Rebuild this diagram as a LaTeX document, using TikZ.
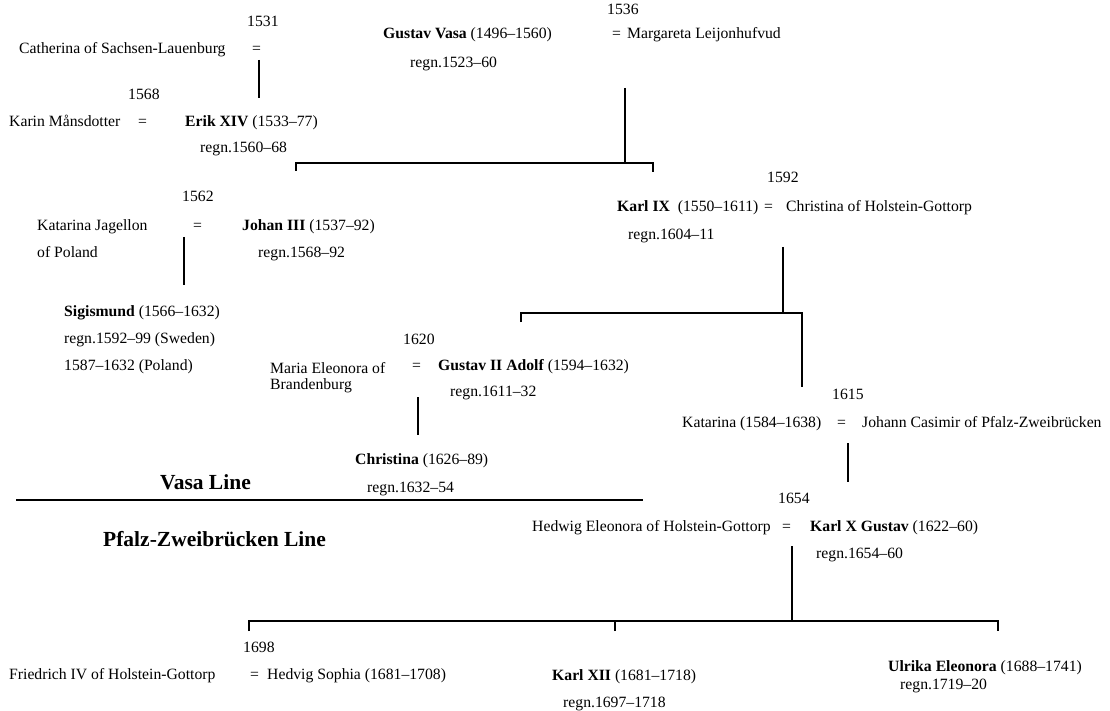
\documentclass[tikz,border=0pt]{standalone}
\usepackage{fontspec}
\setmainfont{Liberation Serif}

\tikzset{
  person/.style={anchor=base west, inner sep=0pt},
  heading/.style={anchor=base west, inner sep=0pt, font=\fontsize{21.5pt}{25pt}\selectfont\bfseries},
  tree/.style={line width=1.2pt}
}

\begin{document}
\begin{tikzpicture}[x=1pt, y=-1pt, font=\fontsize{15.7pt}{19pt}\selectfont]
        \useasboundingbox (0,0) rectangle (1110,711);

        % Gustav Vasa and his marriages
        \node[person] (y1531) at (247,27) {1531};
        \node[person] (catherina) at (19,54) {Catherina of Sachsen-Lauenburg};
        \node[person] (eqCath) at (252,54) {=};
        \node[person] (y1536) at (607,15) {1536};
        \node[person] (gustav) at (383,39) {\textbf{Gustav Vasa} (1496–1560)};
        \node[person] (eqMarg) at (612,39) {=};
        \node[person] (margareta) at (627,39) {Margareta Leijonhufvud};
        \node[person] (gustavReg) at (410,68) {regn.1523–60};

        % Erik XIV
        \node[person] (y1568) at (128,100) {1568};
        \node[person] (karin) at (9,127) {Karin Månsdotter};
        \node[person] (eqKarin) at (138,127) {=};
        \node[person] (erik) at (185,127) {\textbf{Erik XIV} (1533–77)};
        \node[person] (erikReg) at (200,153) {regn.1560–68};

        % Johan III
        \node[person] (y1562) at (182,202) {1562};
        \node[person] (katJag) at (37,231) {Katarina Jagellon};
        \node[person] (katJag2) at (37,258) {of Poland};
        \node[person] (eqKatJag) at (193,231) {=};
        \node[person] (johan) at (242,231) {\textbf{Johan III} (1537–92)};
        \node[person] (johanReg) at (258,258) {regn.1568–92};

        \node[person] (sigismund) at (64,316) {\textbf{Sigismund} (1566–1632)};
        \node[person] (sigReg) at (64,343) {regn.1592–99 (Sweden)};
        \node[person] (sigReg2) at (64,370) {1587–1632 (Poland)};

        % Karl IX
        \node[person] (y1592) at (767,183) {1592};
        \node[person] (karl9) at (617,212) {\textbf{Karl IX}\ \ (1550–1611)};
        \node[person] (eqChris) at (764,212) {=};
        \node[person] (christinaHG) at (786,212) {Christina of Holstein-Gottorp};
        \node[person] (karl9Reg) at (628,240) {regn.1604–11};

        % Gustav II Adolf
        \node[person] (y1620) at (403,344) {1620};
        \node[person] (mariaEl) at (270,373) {Maria Eleonora of};
        \node[person] (mariaEl2) at (270,389) {Brandenburg};
        \node[person] (eqMaria) at (412,370) {=};
        \node[person] (gustav2) at (438,370) {\textbf{Gustav II Adolf} (1594–1632)};
        \node[person] (gustav2Reg) at (450,396) {regn.1611–32};

        \node[person] (christina) at (355,464) {\textbf{Christina} (1626–89)};
        \node[person] (christinaReg) at (367,492) {regn.1632–54};

        % Katarina
        \node[person] (y1615) at (832,399) {1615};
        \node[person] (katarina) at (682,427) {Katarina (1584–1638)};
        \node[person] (eqJohann) at (837,427) {=};
        \node[person] (johann) at (862,427) {Johann Casimir of Pfalz-Zweibrücken};

        % the two lines
        \node[heading] (vasaLine) at (160,489) {Vasa Line};
        \node[heading] (pfalzLine) at (103,546) {Pfalz-Zweibrücken Line};

        % Karl X Gustav
        \node[person] (y1654) at (778,503) {1654};
        \node[person] (hedwig) at (532,531) {Hedwig Eleonora of Holstein-Gottorp};
        \node[person] (eqHedwig) at (782,531) {=};
        \node[person] (karl10) at (810,531) {\textbf{Karl X Gustav} (1622–60)};
        \node[person] (karl10Reg) at (816,558) {regn.1654–60};

        % children of Karl XI
        \node[person] (y1698) at (243,652) {1698};
        \node[person] (friedrich) at (9,679) {Friedrich IV of Holstein-Gottorp};
        \node[person] (eqHedvig) at (250,679) {=};
        \node[person] (hedvig) at (267,679) {Hedvig Sophia (1681–1708)};
        \node[person] (karl12) at (552,680) {\textbf{Karl XII} (1681–1718)};
        \node[person] (karl12Reg) at (563,707) {regn.1697–1718};
        \node[person] (ulrika) at (888,671) {\textbf{Ulrika Eleonora} (1688–1741)};
        \node[person] (ulrikaReg) at (900,689) {regn.1719–20};

        % line ends
        \coordinate (mCath) at (259,60);
        \coordinate (erikTop) at (259,98);
        \coordinate (mMarg) at (625,88);
        \coordinate (forkVasa) at (625,163);
        \coordinate (johanTop) at (296,171);
        \coordinate (karl9Top) at (653,172);
        \coordinate (mKatJag) at (184,237);
        \coordinate (sigTop) at (184,285);
        \coordinate (mChris) at (783,247);
        \coordinate (forkKarl9) at (783,313);
        \coordinate (gustav2Top) at (521,322);
        \coordinate (katarinaTop) at (802,387);
        \coordinate (mMaria) at (418,397);
        \coordinate (christinaTop) at (418,435);
        \coordinate (mJohann) at (848,443);
        \coordinate (karl10Top) at (848,482);
        \coordinate (mHedwig) at (792,546);
        \coordinate (forkKarl10) at (792,621);
        \coordinate (hedvigTop) at (249,631);
        \coordinate (karl12Top) at (615,631);
        \coordinate (ulrikaTop) at (998,631);
        \coordinate (divL) at (16,500);
        \coordinate (divR) at (643,500);

        \draw[tree] (mCath) -- (erikTop);
        \draw[tree] (mMarg) -- (forkVasa);
        \draw[tree] (johanTop) |- (forkVasa) -| (karl9Top);
        \draw[tree] (mKatJag) -- (sigTop);
        \draw[tree] (mChris) -- (forkKarl9);
        \draw[tree] (gustav2Top) |- (forkKarl9) -| (katarinaTop);
        \draw[tree] (mMaria) -- (christinaTop);
        \draw[tree] (mJohann) -- (karl10Top);
        \draw[tree] (mHedwig) -- (forkKarl10);
        \draw[tree] (hedvigTop) |- (forkKarl10) -| (ulrikaTop);
        \draw[tree] (karl12Top) -- (karl12Top |- forkKarl10);

        \draw[tree] (divL) -- (divR);

    \end{tikzpicture}
\end{document}
